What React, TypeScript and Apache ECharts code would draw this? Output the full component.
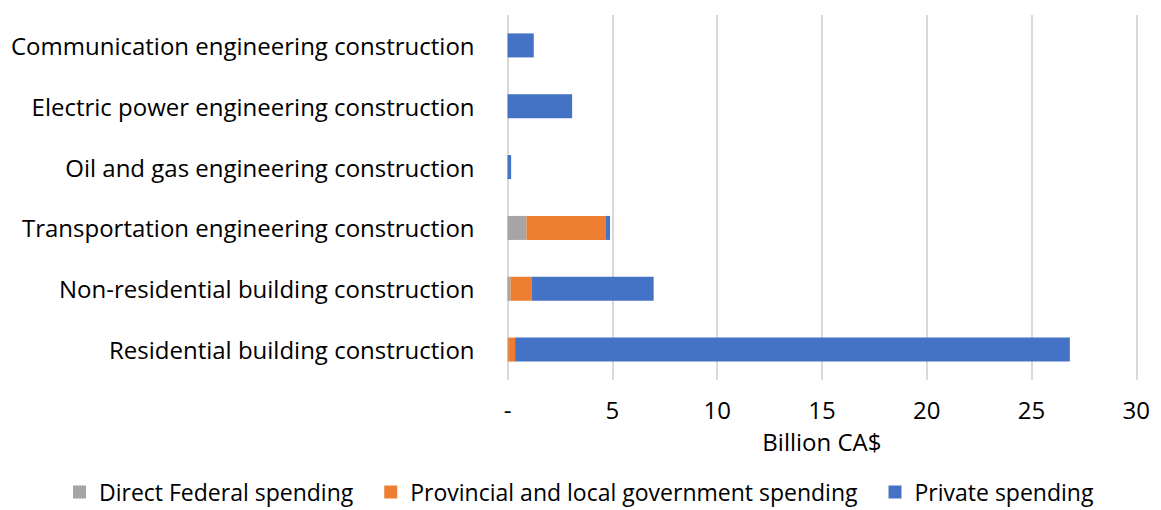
import React, { useEffect, useRef } from "react";
import * as echarts from "echarts";

const categories = [
  "Residential building construction",
  "Non-residential building construction",
  "Transportation engineering construction",
  "Oil and gas engineering construction",
  "Electric power engineering construction",
  "Communication engineering construction",
];
const federal = [0.03, 0.14, 0.9, 0, 0, 0];
const provincial = [0.33, 1.02, 3.77, 0, 0, 0];
const privateSpending = [26.47, 5.81, 0.22, 0.17, 3.08, 1.25];
const xTicks = { min: 0, max: 30, interval: 5 };

export default function App() {
  const ref = useRef<HTMLDivElement>(null);
  useEffect(() => {
    const chart = echarts.init(ref.current!, null, { renderer: "svg" });
    const font = "'Open Sans', sans-serif";
    chart.setOption({
      animation: false,
      textStyle: { fontFamily: font },
      grid: { left: 498, right: 11, top: 7, bottom: 130, containLabel: false },
      legend: {
        top: 472,
        left: 65,
        padding: 0,
        itemWidth: 13,
        itemHeight: 13,
        itemGap: 31,
        icon: "rect",
        textStyle: { fontSize: 23, lineHeight: 24, color: "#000", fontFamily: font, padding: [0, 0, 0, 8] },
        data: ["Direct Federal spending", "Provincial and local government spending", "Private spending"],
      },
      xAxis: {
        type: "value",
        min: xTicks.min,
        max: xTicks.max,
        interval: xTicks.interval,
        name: "Billion CA$",
        nameLocation: "middle",
        nameGap: 49,
        nameTextStyle: { fontSize: 24, color: "#000", fontFamily: font },
        axisLine: { show: false },
        axisTick: { show: false },
        axisLabel: {
          fontSize: 24,
          color: "#000",
          margin: 17,
          fontFamily: font,
          formatter: (v: number) => (v === 0 ? "-" : String(v)),
        },
        splitLine: { show: true, lineStyle: { color: "#d9d9d9", width: 2 } },
      },
      yAxis: {
        type: "category",
        data: categories,
        axisLine: { show: false },
        axisTick: { show: false },
        axisLabel: { fontSize: 24, color: "#000", margin: 33, fontFamily: font },
      },
      series: [
        { name: "Direct Federal spending", type: "bar", stack: "s", data: federal, barWidth: 24, itemStyle: { color: "#a5a5a5" } },
        { name: "Provincial and local government spending", type: "bar", stack: "s", data: provincial, barWidth: 24, itemStyle: { color: "#ed7d31" } },
        { name: "Private spending", type: "bar", stack: "s", data: privateSpending, barWidth: 24, itemStyle: { color: "#4472c4" } },
      ],
    });
    return () => chart.dispose();
  }, []);
  return <div ref={ref} style={{ width: 1145, height: 502 }} />;
}
